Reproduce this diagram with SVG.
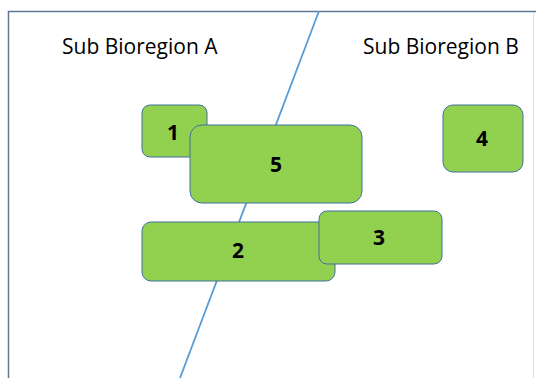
<svg xmlns="http://www.w3.org/2000/svg" width="536" height="378" viewBox="0 0 536 378">
<style>
.node{fill:#92D050;stroke:#41719C;stroke-width:1}
.num{font-family:"Open Sans","Liberation Sans",sans-serif;font-weight:bold;font-size:21px;fill:#000;text-anchor:middle}
.lbl{font-family:"Open Sans","Liberation Sans",sans-serif;font-size:21px;fill:#000}
</style>
<rect width="536" height="378" fill="#fff"/>
<g id="frame">
<path d="M8.5 378 V11.5 H536" fill="none" stroke="#5F7894" stroke-width="1.5"/>
<line x1="533.5" y1="12" x2="533.5" y2="378" stroke="#D6E2EE" stroke-width="1"/>
</g>
<g id="connectors">
<line x1="319" y1="11" x2="180" y2="378" stroke="#5B9BD5" stroke-width="1.8"/>
</g>
<text class="lbl" x="62" y="54">Sub Bioregion A</text>
<text class="lbl" x="363" y="54">Sub Bioregion B</text>
<g id="node1"><rect class="node" x="142" y="105" width="65" height="52" rx="8"/><text class="num" x="173" y="140">1</text></g>
<g id="node5"><rect class="node" x="190" y="125" width="172" height="78" rx="12"/><text class="num" x="276" y="172">5</text></g>
<g id="node2"><rect class="node" x="142" y="222" width="193" height="59" rx="9"/><text class="num" x="238" y="258">2</text></g>
<g id="node3"><rect class="node" x="319" y="211" width="123" height="53" rx="8"/><text class="num" x="379" y="245">3</text></g>
<g id="node4"><rect class="node" x="443" y="105" width="80" height="67" rx="10"/><text class="num" x="482" y="146">4</text></g>
</svg>
